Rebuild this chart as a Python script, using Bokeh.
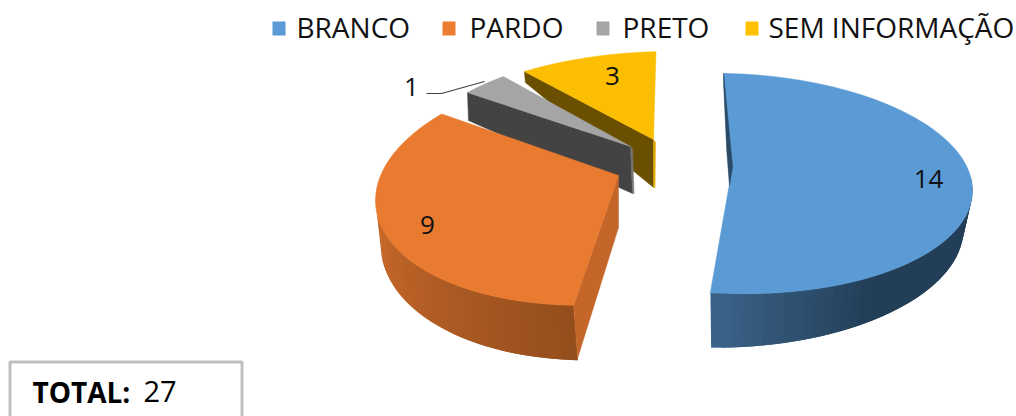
import math
from bokeh.core.properties import value
from bokeh.embed import file_html
from bokeh.plotting import figure
from bokeh.resources import INLINE

categories = ["BRANCO", "PARDO", "PRETO", "SEM INFORMAÇÃO"]
counts = [14, 9, 1, 3]
total_label = "TOTAL:"
total_value = 27

FONT = "Open Sans"
face_colors = ["#5B9BD5", "#E97B30", "#A5A5A5", "#FBBE00"]
legend_colors = ["#5B9BD5", "#ED7D31", "#A5A5A5", "#FFC000"]
legend_box_x = [272, 442, 596, 745]
legend_text_x = [296, 469, 622, 768]
label_pos = [(928, 178), (427, 224), (411, 86), (612, 75)]

# Perspective layout of each exploded slice: rim ellipses (cx, cy, rx, ry, lean),
# the apex, where the slice starts and how much the view foreshortens its sweep.
slices = [
    dict(top=(729, 183, 243, 110, 7), bottom=(729, 235, 234, 112, -6), apex=(729, 183),
         start=91.4, stretch=0.996),
    dict(top=(607, 186, 232, 118, -14), bottom=(611, 229, 231, 130, -14), apex=(618, 175),
         start=261.6, stretch=1.05, cut="#C4662A", apex_drop=(0, 52), rim_drop=(4, 53)),
    dict(top=(670, 174, 269, 125, 0), apex=(630, 146),
         start=139.0, stretch=0.795, cut="#434343", apex_drop=(2, 47), rim_drop=(1, 28), strip="#767676"),
    dict(top=(670, 176, 269, 125, 0), apex=(653, 139),
         start=122.9, stretch=0.745, cut="#6B4F00", apex_drop=(0, 48), rim_drop=(1, 11), strip="#E0A800"),
]


def rim(ellipse, degrees):
    cx, cy, rx, ry, lean = ellipse
    t = math.radians(degrees)
    return cx + rx * math.cos(t), cy + lean * math.cos(t) - ry * math.sin(t)


def mix(a, b, f):
    ca = [int(a[i:i + 2], 16) for i in (1, 3, 5)]
    cb = [int(b[i:i + 2], 16) for i in (1, 3, 5)]
    return "#%02x%02x%02x" % tuple(round(x + (y - x) * f) for x, y in zip(ca, cb))


def polygon(points, color):
    p.patch([q[0] for q in points], [q[1] for q in points],
            fill_color=color, line_color=color, line_width=0.5)


def curved_side(s, t_from, t_to, c_from, c_to, ramp=1.0, n=40):
    # Shaded wall: each band runs under the next one so no seams show
    xs, ys, colors = [], [], []
    for i in range(n):
        a = t_from + (t_to - t_from) * i / n
        b = t_from + (t_to - t_from) * min(n, i + 2) / n
        quad = [rim(s["top"], a), rim(s["top"], b), rim(s["bottom"], b), rim(s["bottom"], a)]
        xs.append([q[0] for q in quad])
        ys.append([q[1] for q in quad])
        colors.append(mix(c_from, c_to, min(1.0, (i / n) / ramp)))
    p.patches(xs, ys, fill_color=colors, line_color=None)


def top_face(s, v, color):
    sweep = v / sum(counts) * 360 * s["stretch"]
    arc = [rim(s["top"], s["start"] - sweep * i / 80) for i in range(81)]
    polygon([s["apex"]] + arc, color)


def cut_face(s):
    ax, ay = s["apex"]
    ox, oy = rim(s["top"], s["start"])
    adx, ady = s["apex_drop"]
    rdx, rdy = s["rim_drop"]
    polygon([(ox, oy), (ax, ay), (ax + adx, ay + ady), (ox + rdx, oy + rdy)], s["cut"])
    if "strip" in s:
        polygon([(ax, ay), (ax + 2, ay + 3), (ax + adx + 1.5, ay + ady), (ax + adx, ay + ady)], s["strip"])


p = figure(width=1016, height=416, x_range=(0, 1016), y_range=(416, 0),
           toolbar_location=None, output_backend="svg", min_border=0,
           background_fill_color="white", border_fill_color="white")
p.axis.visible = False
p.grid.visible = False
p.outline_line_color = None

blue, orange, grey, yellow = slices

# Blue slice: outer wall, face and the sliver of its inner wall
curved_side(blue, -94.5, 6, "#3B6288", "#233F58", ramp=0.38)
top_face(blue, counts[0], face_colors[0])
ox, oy = rim(blue["top"], blue["start"])
ax, ay = blue["apex"]
polygon([(ox, oy), (ox + 0.85 * (ax - ox) + 4, oy + 0.85 * (ay - oy)), (ax, ay + 2),
         (ox + 0.7 * (ax - ox) - 1, oy + 0.7 * (ay - oy)), (ox, oy + 10)], "#2B4A68")

# Back slices first, the orange slice overlaps them
cut_face(yellow)
top_face(yellow, counts[3], face_colors[3])
cut_face(grey)
top_face(grey, counts[2], face_colors[2])
curved_side(orange, 186, 261.6, "#C8692C", "#934D1B")
cut_face(orange)
top_face(orange, counts[1], face_colors[1])

# Leader line of the smallest slice
p.line([426, 441, 484], [93, 93, 81], line_color="#404040", line_width=1.2)

# Value labels
p.text([q[0] for q in label_pos], [q[1] for q in label_pos], text=[str(c) for c in counts],
       text_font=value(FONT), text_font_size="26px", text_color="#111111",
       text_align="center", text_baseline="middle")

# Legend row
p.quad(left=legend_box_x, right=[x + 13 for x in legend_box_x], top=[21] * 4, bottom=[35] * 4,
       fill_color=legend_colors, line_color=None)
p.text(legend_text_x, [26.5] * 4, text=categories, text_font=value(FONT), text_font_size="28px",
       text_color="#111111", text_align="left", text_baseline="middle")

# Total box, open at the bottom edge of the page
p.line([9.5, 9.5, 241.5, 241.5], [420, 361.5, 361.5, 420], line_color="#BFBFBF", line_width=3)
p.text([32], [391], text=[total_label], text_font=value(FONT), text_font_size="28px",
       text_font_style="bold", text_color="black", text_align="left", text_baseline="middle")
p.text([143], [391], text=[str(total_value)], text_font=value(FONT), text_font_size="29px",
       text_color="black", text_align="left", text_baseline="middle")

open("out.html", "w").write(file_html(p, INLINE))
